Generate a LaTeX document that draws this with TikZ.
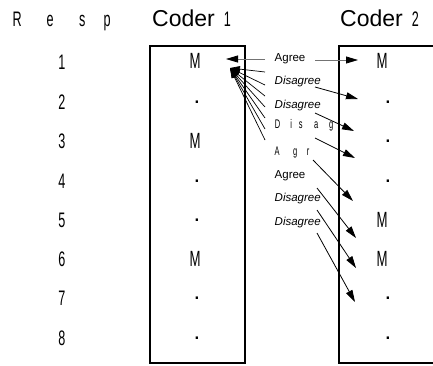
\documentclass[tikz,border=0pt]{standalone}
\usepackage{fontspec}
\setmainfont{Liberation Sans}
\newfontfamily\narrowfont[FakeStretch=0.6]{Liberation Sans}
\usetikzlibrary{arrows.meta}
\begin{document}
\begin{tikzpicture}[x=1pt,y=-1pt,
  num/.style={font=\narrowfont\fontsize{21}{21}\selectfont, inner sep=0pt},
  mk/.style={font=\narrowfont\fontsize{22}{22}\selectfont, inner sep=0pt},
  dotmk/.style={font=\fontsize{24}{24}\selectfont, inner sep=0pt},
  colbox/.style={draw, line width=2pt, inner sep=0pt, minimum height=317pt},
  title/.style={font=\fontsize{23}{24}\selectfont, inner sep=0pt, anchor=base west},
  lab/.style={font=\fontsize{11.5}{12}\selectfont, inner sep=0pt, anchor=base west},
  dis/.style={font=\fontsize{11.5}{12}\selectfont\itshape, inner sep=0pt, anchor=base west},
  small/.style={font=\narrowfont\fontsize{12.5}{13}\selectfont, inner sep=0pt, anchor=base west},
  link/.style={line width=0.8pt, -{Triangle[length=12pt,width=7pt,color=black,fill=black]}},
  agreelink/.style={link, draw=black!55},
  backlink/.style={line width=0.7pt, -{Triangle[length=10pt,width=6pt,color=black,fill=black]}}
]
\useasboundingbox (0,0) rectangle (433,365);
\clip (0,0) rectangle (433,365);

% column boxes
\node[colbox, minimum width=95pt] (box1) at (197.5,204.5) {};
\node[colbox, minimum width=106pt] (box2) at (392,204.5) {};

% header
\node[num, anchor=base west] (resp) at (17,26) {\makebox[0pt]{R}\hspace{33pt}\makebox[0pt]{e}\hspace{32pt}\makebox[0pt]{s}\hspace{25pt}\makebox[0pt]{p}};
\node[title] (c1) at (152,26) {Coder\hspace{9pt}{\narrowfont\fontsize{21}{21}\selectfont 1}};
\node[title] (c2) at (340,26) {Coder\hspace{9pt}{\narrowfont\fontsize{21}{21}\selectfont 2}};

% row numbers
\foreach \i/\y in {1/62,2/102,3/141,4/181,5/220,6/259,7/298,8/338}
  \node[num] (n\i) at (62,\y) {\i};

% coder 1
\node[mk] (a1) at (195,61) {M};
\node[dotmk] (a2) at (197,102) {.};
\node[mk] (a3) at (195,141) {M};
\node[dotmk] (a4) at (197,181) {.};
\node[dotmk] (a5) at (197,220) {.};
\node[mk] (a6) at (195,259) {M};
\node[dotmk] (a7) at (197,298) {.};
\node[dotmk] (a8) at (197,338) {.};

% coder 2
\node[mk] (b1) at (382,61) {M};
\node[dotmk] (b2) at (388,102) {.};
\node[dotmk] (b3) at (388,141) {.};
\node[dotmk] (b4) at (388,181) {.};
\node[mk] (b5) at (382,220) {M};
\node[mk] (b6) at (382,259) {M};
\node[dotmk] (b7) at (388,298) {.};
\node[dotmk] (b8) at (388,338) {.};

% labels
\node[lab] (g1) at (274.5,61) {Agree};
\node[dis] (g2) at (274.5,84) {Disagree};
\node[dis] (g3) at (274.5,108) {Disagree};
\node[small] (g4) at (277.5,128) {\makebox[0pt]{D}\hspace{13.5pt}\makebox[0pt]{i}\hspace{9.5pt}\makebox[0pt]{s}\hspace{15.5pt}\makebox[0pt]{a}\hspace{15pt}\makebox[0pt]{g}};
\node[small] (g5) at (277,155) {\makebox[0pt]{A}\hspace{18pt}\makebox[0pt]{g}\hspace{13pt}\makebox[0pt]{r}};
\node[lab] (g6) at (274.5,178) {Agree};
\node[dis] (g7) at (274.5,201) {Disagree};
\node[dis] (g8) at (274.5,225) {Disagree};

% connector end points
\coordinate (r1s) at (315,60);  \coordinate (r1e) at (358,60);
\coordinate (r2s) at (315,87);  \coordinate (r2e) at (358,99);
\coordinate (r3s) at (315,113); \coordinate (r3e) at (354,131);
\coordinate (r4s) at (315,138); \coordinate (r4e) at (355,158);
\coordinate (r5s) at (313,160); \coordinate (r5e) at (353,201);
\coordinate (r6s) at (317,188); \coordinate (r6e) at (356,238);
\coordinate (r7s) at (317,210); \coordinate (r7e) at (356,268);
\coordinate (r8s) at (317,233); \coordinate (r8e) at (355,302);

\coordinate (l1s) at (265,59); \coordinate (l1e) at (226,59);
\coordinate (hub) at (230,68);
\foreach \k/\y in {2/72,3/85,4/96,5/107,6/118,7/129,8/140}
  \coordinate (l\k s) at (265,\y);

% connectors to coder 2
\draw[agreelink] (r1s) -- (r1e);
\foreach \k in {2,...,8}
  \draw[link] (r\k s) -- (r\k e);

% connectors back to coder 1
\draw[agreelink] (l1s) -- (l1e);
\foreach \k in {2,...,8}
  \draw[backlink] (l\k s) -- (hub);
\end{tikzpicture}
\end{document}
